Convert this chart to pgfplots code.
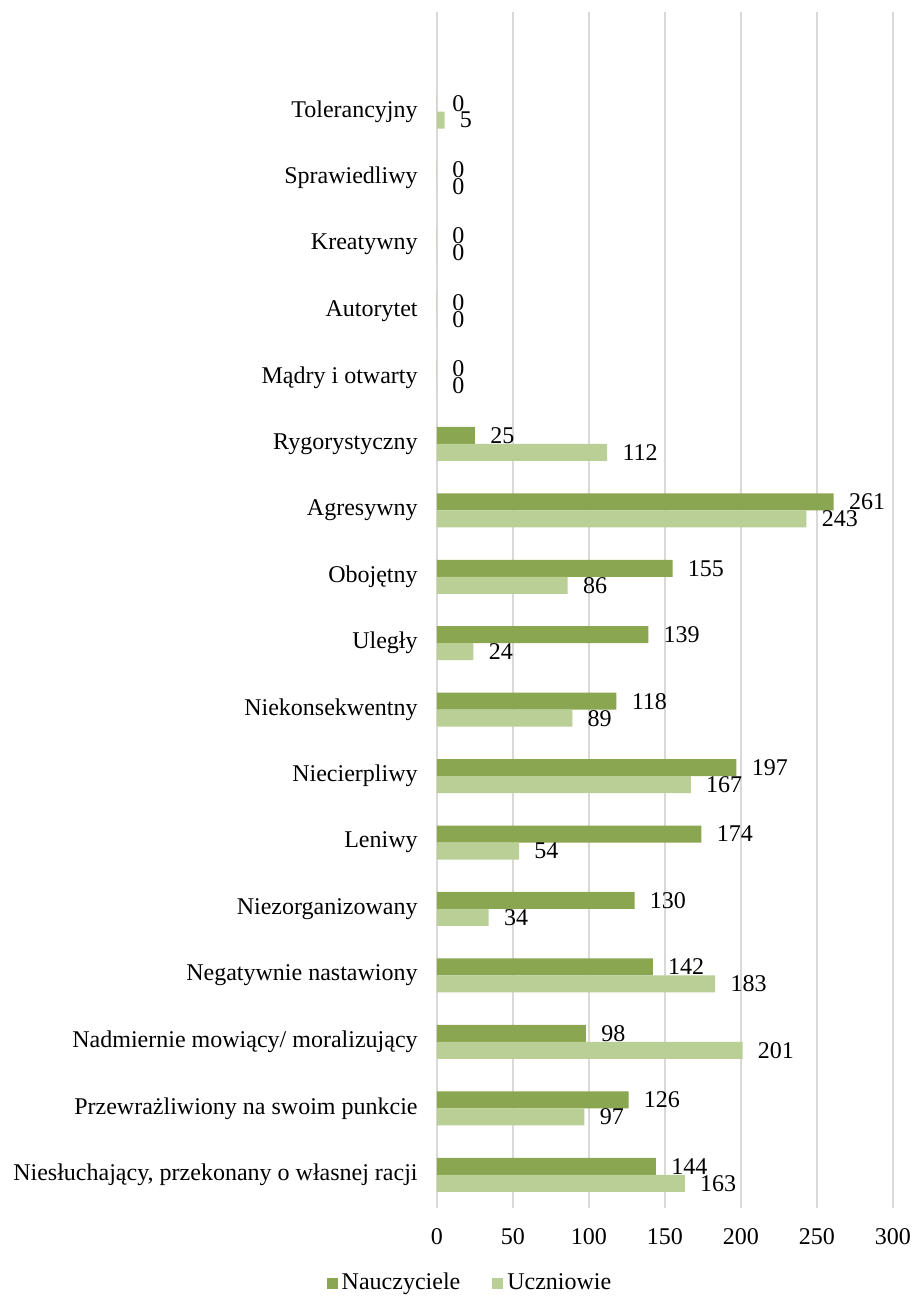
\documentclass[border=0pt,12pt]{standalone}
\usepackage{fontspec}
\setmainfont{Liberation Serif}
\usepackage{pgfplots}
\pgfplotsset{compat=1.18}

\definecolor{nauczGreen}{RGB}{138,166,80}
\definecolor{uczGreen}{RGB}{185,207,150}
\definecolor{gridgray}{RGB}{217,217,217}

\begin{document}
\begin{tikzpicture}
	\begin{axis}[
		name=ax,
		xbar,
		scale only axis,
		width=228pt, height=598pt,
		xmin=0, xmax=300,
		ymin=-0.5, ymax=17.5,
		xtick={0,50,100,150,200,250,300},
		ytick={0,1,2,3,4,5,6,7,8,9,10,11,12,13,14,15,16},
		yticklabels={
			{Niesłuchający, przekonany o własnej racji},
			Przewrażliwiony na swoim punkcie,
			Nadmiernie mowiący/ moralizujący,
			Negatywnie nastawiony,
			Niezorganizowany,
			Leniwy,
			Niecierpliwy,
			Niekonsekwentny,
			Uległy,
			Obojętny,
			Agresywny,
			Rygorystyczny,
			Mądry i otwarty,
			Autorytet,
			Kreatywny,
			Sprawiedliwy,
			Tolerancyjny},
		/pgf/number format/assume math mode=true,
		xmajorgrids,
		major grid style={draw=gridgray, line width=0.75pt},
		axis line style={draw=none},
		tick style={draw=none},
		major tick length=0pt,
		yticklabel style={xshift=-5.5pt},
		xticklabel style={yshift=-6pt},
		bar width=8.5pt,
		nodes near coords,
		nodes near coords style={anchor=west, inner sep=0pt, xshift=7.5pt, text=black},
		legend columns=2,
		legend style={draw=none, at={(0.0746,0)}, anchor=center, yshift=-37.5pt,
			/tikz/every even column/.append style={column sep=14pt}},
		legend image code/.code={\fill[#1] (0pt,-2.75pt) rectangle (5.5pt,2.75pt);},
		]
		% Nauczyciele
		\addplot[fill=nauczGreen, draw=none, bar shift=4.25pt] coordinates {
			(144,0) (126,1) (98,2) (142,3) (130,4) (174,5) (197,6) (118,7)
			(139,8) (155,9) (261,10) (25,11) (0,12) (0,13) (0,14) (0,15) (0,16)
		};
		% Uczniowie
		\addplot[fill=uczGreen, draw=none, bar shift=-4.25pt] coordinates {
			(163,0) (97,1) (201,2) (183,3) (34,4) (54,5) (167,6) (89,7)
			(24,8) (86,9) (243,10) (112,11) (0,12) (0,13) (0,14) (0,15) (5,16)
		};
		\legend{Nauczyciele, Uczniowie}
	\end{axis}
	\pgfresetboundingbox
	\path ([xshift=-218.5pt,yshift=-46pt]ax.south west) rectangle ([xshift=238pt,yshift=604pt]ax.south west);
\end{tikzpicture}
\end{document}
